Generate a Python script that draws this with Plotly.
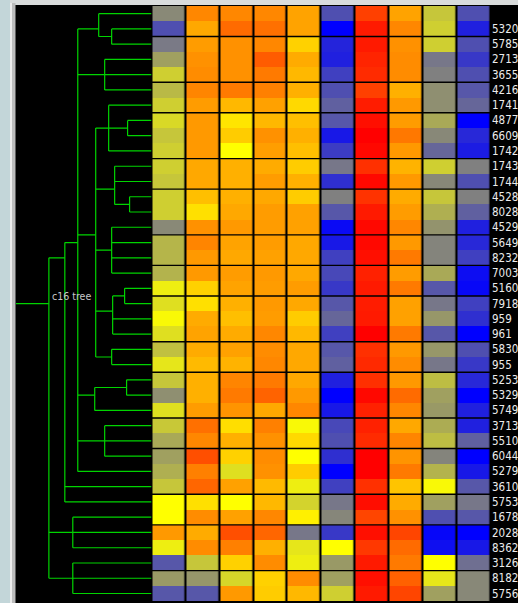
import plotly.graph_objects as go

# ---------------- data ----------------
row_labels = ["", "5320", "5785", "2713", "3655", "4216", "1741", "4877", "6609", "1742",
              "1743", "1744", "4528", "8028", "4529", "5649", "8232", "7003", "5160", "7918",
              "959", "961", "5830", "955", "5253", "5329", "5749", "3713", "5510", "6044",
              "5279", "3610", "5753", "1678", "2028", "8362", "3126", "8182", "5756"]

col_names = ["c1", "c2", "c3", "c4", "c5", "c6", "c7", "c8", "c9", "c10"]

# expression values per column (0 = blue, 1 = grey, 2 = yellow, 3 = red)
c1 = [1.07, 0.62, 0.95, 1.25, 1.62, 1.45, 1.62, 1.70, 1.55, 1.62,
      1.62, 1.55, 1.62, 1.62, 1.07, 1.42, 1.42, 1.40, 1.87, 1.75,
      1.95, 1.75, 1.50, 1.80, 1.55, 1.12, 1.75, 1.57, 1.32, 1.25,
      1.37, 1.55, 2.00, 2.00, 2.40, 1.87, 0.68, 1.20, 0.68]
c2 = [2.47, 2.34, 2.39, 2.43, 2.45, 2.48, 2.39, 2.40, 2.40, 2.40,
      2.34, 2.34, 2.25, 2.12, 2.43, 2.48, 2.40, 2.40, 2.18, 2.12,
      2.33, 2.36, 2.33, 2.27, 2.31, 2.31, 2.39, 2.56, 2.47, 2.69,
      2.50, 2.60, 2.12, 2.45, 2.33, 2.45, 1.55, 1.17, 0.68]
c3 = [2.47, 2.58, 2.43, 2.43, 2.43, 2.52, 2.28, 2.10, 2.20, 2.00,
      2.31, 2.31, 2.31, 2.34, 2.40, 2.36, 2.34, 2.39, 2.36, 2.31,
      2.25, 2.33, 2.37, 2.30, 2.48, 2.52, 2.42, 2.13, 2.31, 2.18,
      1.75, 2.37, 2.00, 2.37, 2.69, 2.50, 2.18, 1.68, 2.40]
c4 = [2.47, 2.56, 2.47, 2.64, 2.52, 2.50, 2.37, 2.28, 2.43, 2.38,
      2.33, 2.39, 2.34, 2.39, 2.39, 2.39, 2.37, 2.40, 2.39, 2.40,
      2.39, 2.47, 2.45, 2.47, 2.52, 2.61, 2.34, 2.50, 2.43, 2.45,
      2.43, 2.27, 2.28, 2.47, 2.60, 2.31, 2.45, 2.18, 2.20]
c5 = [2.36, 2.36, 2.18, 2.33, 2.28, 2.31, 2.15, 2.25, 2.31, 2.25,
      2.20, 2.31, 2.20, 2.37, 2.37, 2.34, 2.34, 2.34, 2.39, 2.34,
      2.20, 2.28, 2.34, 2.34, 2.34, 2.40, 2.47, 1.95, 2.15, 2.00,
      2.20, 1.87, 1.65, 2.06, 0.93, 1.80, 1.87, 2.45, 2.28]
c6 = [0.62, 0.00, 0.28, 0.25, 0.50, 0.62, 0.75, 0.68, 0.19, 0.47,
      0.93, 0.37, 1.00, 0.68, 0.08, 0.19, 0.50, 0.56, 0.44, 0.68,
      0.80, 0.50, 0.68, 0.75, 0.25, 0.00, 0.19, 0.56, 0.62, 0.37,
      0.00, 0.50, 0.93, 1.05, 0.44, 2.00, 1.20, 1.25, 1.62]
c7 = [2.75, 2.90, 2.90, 2.86, 2.83, 2.75, 2.89, 2.94, 3.00, 2.97,
      2.81, 2.97, 2.80, 2.90, 2.97, 2.97, 2.94, 2.87, 2.90, 2.89,
      2.90, 3.00, 2.81, 2.84, 2.81, 2.97, 2.87, 2.87, 2.83, 3.00,
      3.00, 2.81, 2.95, 2.73, 2.94, 2.78, 2.90, 2.94, 2.90]
c8 = [2.36, 2.47, 2.43, 2.45, 2.45, 2.31, 2.40, 2.39, 2.53, 2.40,
      2.30, 2.40, 2.33, 2.39, 2.47, 2.40, 2.52, 2.39, 2.52, 2.37,
      2.37, 2.52, 2.40, 2.45, 2.40, 2.58, 2.47, 2.34, 2.48, 2.42,
      2.52, 2.23, 2.33, 2.43, 2.73, 2.58, 2.52, 2.62, 2.73]
c9 = [1.55, 1.62, 1.62, 0.93, 1.00, 1.12, 1.12, 1.32, 1.06, 0.80,
      1.62, 1.06, 1.55, 1.37, 1.15, 1.03, 1.03, 1.32, 0.68, 0.93,
      1.18, 0.68, 1.18, 0.93, 1.48, 1.25, 1.20, 1.35, 1.48, 1.03,
      1.40, 1.95, 1.25, 0.62, 0.05, 0.12, 2.00, 1.80, 1.25]
c10 = [0.62, 0.25, 0.62, 0.44, 0.62, 0.68, 0.80, 0.00, 0.31, 0.22,
       1.00, 0.62, 1.00, 0.75, 0.25, 0.31, 0.50, 0.10, 0.06, 0.50,
       0.37, 0.00, 0.62, 0.44, 0.31, 0.00, 0.25, 0.25, 0.75, 0.00,
       0.19, 0.68, 0.93, 0.68, 0.00, 0.19, 0.87, 1.06, 1.06]

# dendrogram: (merge distance, [children]); integers are leaf rows
tree = (10.3, [
    (8.7, [
        (7.4, [
            (5.3, [0, (4.0, [1, 2])]),
            (4.7, [3, 4, 5]),
            (5.6, [
                (4.3, [6, (2.4, [7, 8]), 9]),
                (3.7, [10, 11, (2.2, [12, 13])]),
                (4.0, [14, 15, 16, 17]),
                (3.9, [(2.7, [18, 19]), 20, 21]),
                (4.0, [22, 23]),
            ]),
            (5.7, [(2.5, [24, 25]), 26]),
            (4.7, [27, 28, 29]),
            30,
        ]),
        31, 32,
    ]),
    (7.9, [33, 34, 35]),
    (7.9, [36, 37, 38]),
])
tree_name = "c16 tree"

# ---------------- styling ----------------
row_breaks = [2, 5, 7, 10, 12, 15, 17, 19, 22, 24, 27, 29, 32, 34, 37]
GREEN = "#00d400"
W, H = 518, 603
ML, MT = 16, 5
PW, PH = W - ML, H - MT
FONT = "Liberation Sans Narrow, DejaVu Sans Condensed, sans-serif"

columns = [c1, c2, c3, c4, c5, c6, c7, c8, c9, c10]
n_rows = len(row_labels)
z = [[col[r] for col in columns] for r in range(n_rows)]

# ---------------- dendrogram segments ----------------
xs, ys = [], []


def leaves(node):
    if isinstance(node, int):
        return [node]
    out = []
    for ch in node[1]:
        out += leaves(ch)
    return out


def draw(node):
    """returns (height, y) of node and appends its segments"""
    if isinstance(node, int):
        return 0.0, float(node)
    h, children = node
    pos = [draw(ch) for ch in children]
    cy = [p[1] for p in pos]
    xs.extend([h, h, None]); ys.extend([min(cy), max(cy), None])
    for ch_h, ch_y in pos:
        xs.extend([ch_h, h, None]); ys.extend([ch_y, ch_y, None])
    lv = leaves(node)
    return h, sum(lv) / len(lv)


root_h, root_y = draw(tree)
x_left = 13.6
xs.extend([root_h, x_left, None]); ys.extend([root_y, root_y, None])

fig = go.Figure()
fig.add_trace(go.Scatter(x=xs, y=ys, mode="lines", xaxis="x", yaxis="y",
                         line=dict(color=GREEN, width=1.2), hoverinfo="skip",
                         showlegend=False))

fig.add_trace(go.Heatmap(z=z, x=col_names, y=list(range(n_rows)), xaxis="x2", yaxis="y",
                         zmin=0, zmax=3,
                         colorscale=[[0, "#0000ff"], [1 / 3, "#808080"],
                                     [2 / 3, "#ffff00"], [1, "#ff0000"]],
                         showscale=False, xgap=2.2, ygap=0, hoverinfo="skip"))

d1 = (151.5 - ML) / PW
d2 = (490 - ML) / PW
row_px = 15.26
y_top = -0.5 - 1 / row_px
y_bot = y_top + PH / row_px

shapes = []
for k in row_breaks:
    shapes.append(dict(type="line", xref="x2 domain", yref="y", x0=0, x1=1,
                       y0=k - 0.5, y1=k - 0.5, line=dict(color="black", width=1.4),
                       layer="above"))


# window chrome
def px(x):
    return (x - ML) / PW


def py(y):
    return (H - y) / PH


shapes += [
    dict(type="rect", xref="paper", yref="paper", x0=px(0), x1=px(10), y0=py(H), y1=py(0),
         fillcolor="#c3d6d9", line=dict(width=0), layer="below"),
    dict(type="rect", xref="paper", yref="paper", x0=px(10), x1=px(W), y0=py(5), y1=py(0),
         fillcolor="#d9dcdc", line=dict(width=0), layer="below"),
    dict(type="rect", xref="paper", yref="paper", x0=px(10), x1=px(12), y0=py(H), y1=py(3),
         fillcolor="#ececec", line=dict(width=0), layer="below"),
    dict(type="rect", xref="paper", yref="paper", x0=px(12), x1=px(15.5), y0=py(H), y1=py(3),
         fillcolor="#bcbcbc", line=dict(width=0), layer="below"),
]

fig.update_layout(
    width=W, height=H,
    margin=dict(l=ML, r=0, t=MT, b=0, pad=0),
    paper_bgcolor="black",
    plot_bgcolor="black",
    showlegend=False,
    xaxis=dict(domain=[0, d1], range=[x_left, 0], visible=False, fixedrange=True),
    xaxis2=dict(domain=[d1, d2], visible=False, fixedrange=True),
    yaxis=dict(range=[y_bot, y_top], anchor="x2", side="right",
               tickmode="array", tickvals=list(range(n_rows)), ticktext=row_labels,
               ticks="", showgrid=False, zeroline=False, showline=False,
               ticklabelstandoff=1,
               tickfont=dict(family=FONT, size=11.5, color="#ececec"),
               fixedrange=True),
    shapes=shapes,
    annotations=[dict(x=root_h, y=root_y, xref="x", yref="y", text=tree_name,
                      showarrow=False, xanchor="left", yanchor="bottom", xshift=1, yshift=0,
                      font=dict(family=FONT, size=10.5, color="#c8c8c8"))],
)

fig.write_html("out.html", config={"displayModeBar": False, "staticPlot": True},
               post_script="document.body.style.margin='0';document.body.style.padding='0';"
                           "document.body.style.overflow='hidden';")
